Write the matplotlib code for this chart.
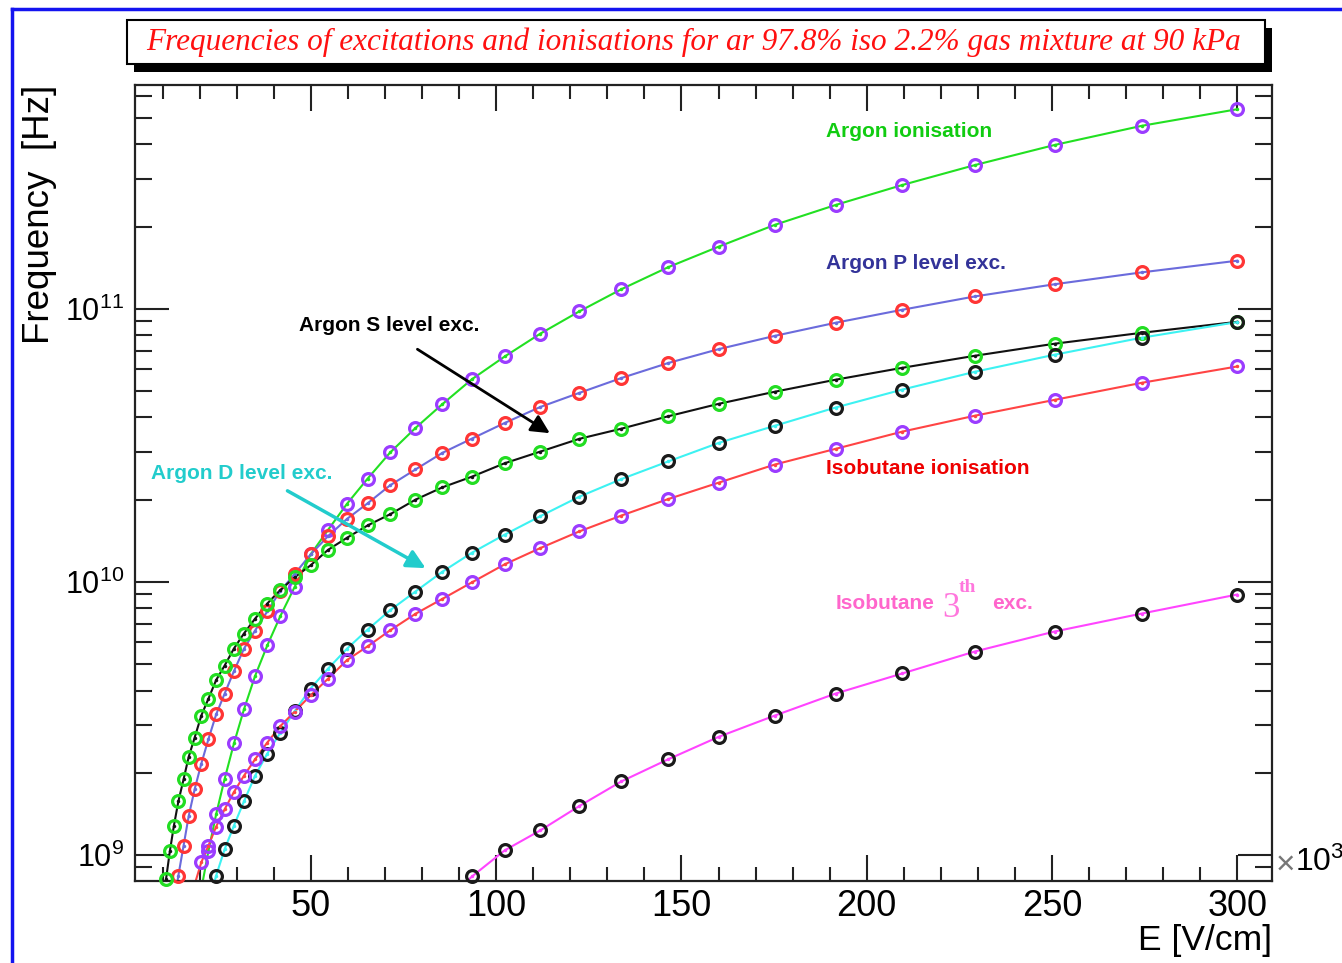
import numpy as np
import matplotlib
matplotlib.use("Agg")
import matplotlib.pyplot as plt
from matplotlib.patches import Rectangle
from matplotlib.lines import Line2D
from matplotlib.ticker import FixedLocator, MultipleLocator, LogLocator, NullFormatter

plt.rcParams['font.family'] = ['Liberation Sans', 'DejaVu Sans']
plt.rcParams['mathtext.default'] = 'regular'

# reduced field E (x10^3 V/cm), shared by every curve
field = [300.0, 274.3, 250.7, 229.2, 209.6, 191.6, 175.2, 160.1, 146.4, 133.8,
         122.4, 111.9, 102.3, 93.5, 85.5, 78.2, 71.4, 65.3, 59.7, 54.6,
         49.9, 45.6, 41.7, 38.2, 34.9, 31.9, 29.2, 26.7, 24.4, 22.3,
         20.4, 18.6, 17.0, 15.6, 14.2, 13.0, 11.9, 10.9, 9.9]

# frequencies [Hz], listed from high field down
ar_ionisation = [5.38e11, 4.68e11, 3.98e11, 3.36e11, 2.84e11, 2.40e11, 2.03e11, 1.69e11, 1.42e11, 1.18e11,
                 9.78e10, 8.11e10, 6.69e10, 5.53e10, 4.48e10, 3.66e10, 2.98e10, 2.39e10, 1.93e10, 1.55e10,
                 1.26e10, 9.59e9, 7.48e9, 5.85e9, 4.52e9, 3.41e9, 2.56e9, 1.90e9, 1.41e9, 1.03e9,
                 7.5e8]
ar_p_level = [1.50e11, 1.36e11, 1.23e11, 1.11e11, 9.92e10, 8.89e10, 7.96e10, 7.12e10, 6.33e10, 5.58e10,
              4.92e10, 4.37e10, 3.82e10, 3.35e10, 2.97e10, 2.58e10, 2.26e10, 1.94e10, 1.70e10, 1.47e10,
              1.26e10, 1.07e10, 9.25e9, 7.80e9, 6.63e9, 5.69e9, 4.71e9, 3.90e9, 3.27e9, 2.65e9,
              2.16e9, 1.74e9, 1.39e9, 1.08e9, 8.4e8, 6.6e8]
ar_s_level = [8.96e10, 8.17e10, 7.45e10, 6.73e10, 6.08e10, 5.50e10, 4.97e10, 4.49e10, 4.04e10, 3.64e10,
              3.34e10, 3.00e10, 2.72e10, 2.43e10, 2.22e10, 2.00e10, 1.77e10, 1.61e10, 1.45e10, 1.31e10,
              1.15e10, 1.04e10, 9.33e9, 8.33e9, 7.33e9, 6.47e9, 5.70e9, 4.94e9, 4.37e9, 3.73e9,
              3.24e9, 2.69e9, 2.29e9, 1.89e9, 1.57e9, 1.28e9, 1.03e9, 8.2e8, 6.6e8]
ar_d_level = [8.94e10, 7.84e10, 6.79e10, 5.88e10, 5.06e10, 4.35e10, 3.73e10, 3.23e10, 2.76e10, 2.38e10,
              2.05e10, 1.74e10, 1.49e10, 1.28e10, 1.09e10, 9.22e9, 7.88e9, 6.69e9, 5.69e9, 4.81e9,
              4.07e9, 3.36e9, 2.80e9, 2.35e9, 1.95e9, 1.57e9, 1.28e9, 1.05e9, 8.4e8, 6.6e8]
iso_ionisation = [6.15e10, 5.36e10, 4.64e10, 4.06e10, 3.55e10, 3.07e10, 2.69e10, 2.31e10, 2.01e10, 1.75e10,
                  1.53e10, 1.33e10, 1.16e10, 9.97e9, 8.67e9, 7.64e9, 6.65e9, 5.81e9, 5.17e9, 4.42e9,
                  3.84e9, 3.35e9, 2.96e9, 2.58e9, 2.24e9, 1.95e9, 1.70e9, 1.47e9, 1.27e9, 1.08e9,
                  9.4e8, 7.8e8]
iso_3th = [8.99e9, 7.66e9, 6.58e9, 5.56e9, 4.62e9, 3.90e9, 3.24e9, 2.71e9, 2.24e9, 1.86e9,
           1.51e9, 1.23e9, 1.04e9, 8.35e8, 6.6e8]

curves = [ar_ionisation, ar_p_level, ar_s_level, ar_d_level, iso_ionisation, iso_3th]
line_colors = ['#22e022', '#6b6bdc', '#111111', '#3df2f2', '#ff4444', '#ff44ff']
marker_colors = ['#9b3cff', '#ff3535', '#22dd22', '#1a1a1a', '#9b3cff', '#1a1a1a']

x_ticks = [50, 100, 150, 200, 250, 300]
title = "Frequencies of excitations and ionisations for ar 97.8% iso 2.2% gas mixture at 90 kPa"

W, H = 1342, 963
fig = plt.figure(figsize=(W / 100, H / 100), dpi=100)

# blue canvas border on top and left
fig.add_artist(Line2D([12 / W, 1], [1 - 9 / H, 1 - 9 / H], color='#1414f0', lw=2.5))
fig.add_artist(Line2D([12 / W, 12 / W], [0, 1 - 9 / H], color='#1414f0', lw=2.5))

# title pave with its shadow
fig.add_artist(Rectangle((134 / W, 1 - 72 / H), (1272 - 134) / W, 44 / H,
                         transform=fig.transFigure, facecolor='black', edgecolor='none'))
fig.add_artist(Rectangle((127 / W, 1 - 64 / H), (1265 - 127) / W, 44 / H,
                         transform=fig.transFigure, facecolor='white', edgecolor='black', lw=1.5))
fig.text(694 / W, 1 - 42 / H, title, color='#ff1010', family='Liberation Serif',
         style='italic', fontsize=22.5, ha='center', va='center')

ymin, ymax = 8.05e8, 6.6e11
ax = fig.add_axes([135 / W, 1 - 880.7 / H, (1272 - 135) / W, (880.7 - 85) / H])
ax.set_yscale('log')
ax.set_xlim(2.5, 309.4)
ax.set_ylim(ymin, ymax)

E = np.array(field)
for vals, lc, mc in zip(curves, line_colors, marker_colors):
    y = np.array(vals)
    x = E[:len(y)]
    ax.plot(x, y, color=lc, lw=1.5, zorder=2)
    keep = y >= ymin
    ax.plot(x[keep], y[keep], ls='none', marker='o', ms=8.5, mfc='none', mec=mc,
            mew=2.3, clip_on=False, zorder=3)
    ax.plot(x[keep], y[keep], ls='none', marker='o', ms=2.5, mfc=lc, mec='none',
            clip_on=False, zorder=3)

ax.xaxis.set_major_locator(FixedLocator(x_ticks))
ax.xaxis.set_minor_locator(MultipleLocator(10))
ax.yaxis.set_major_locator(LogLocator(base=10, numticks=10))
ax.yaxis.set_minor_locator(LogLocator(base=10, subs=np.arange(2, 10), numticks=10))
ax.yaxis.set_minor_formatter(NullFormatter())
ax.tick_params(which='both', direction='in', top=True, right=True, width=1.5, color='#222222')
ax.tick_params(axis='x', which='major', length=19, labelsize=26, pad=6)
ax.tick_params(axis='x', which='minor', length=10)
ax.tick_params(axis='y', which='major', length=24.5, labelsize=22, pad=8)
ax.tick_params(axis='y', which='minor', length=12)
for s in ax.spines.values():
    s.set_linewidth(1.6)
    s.set_color('#222222')

# curve labels and arrows
bold = dict(fontsize=15, fontweight='bold', va='center', ha='left')
ax.text(189.0, 4.45e11, 'Argon ionisation', color='#11cc11', **bold)
ax.text(189.0, 1.46e11, 'Argon P level exc.', color='#333399', **bold)
ax.text(46.8, 8.67e10, 'Argon S level exc.', color='black', **bold)
ax.text(6.8, 2.49e10, 'Argon D level exc.', color='#22cccc', **bold)
ax.text(189.0, 2.60e10, 'Isobutane ionisation', color='#ee0000', **bold)
ax.text(191.7, 8.34e9, 'Isobutane', color='#ff66cc', **bold)
ax.text(220.5, 8.0e9, '3', color='#ff77dd', family='Liberation Serif', fontsize=25,
        va='center', ha='left')
ax.text(224.8, 9.5e9, 'th', color='#ff77dd', family='Liberation Serif', fontsize=14,
        fontweight='bold', va='center', ha='left')
ax.text(233.8, 8.34e9, 'exc.', color='#ff66cc', **bold)

ax.annotate('', xy=(115.1, 3.46e10), xytext=(78.1, 7.2e10),
            arrowprops=dict(arrowstyle='-|>', color='black', lw=2, mutation_scale=28))
ax.annotate('', xy=(81.6, 1.11e10), xytext=(43.0, 2.18e10),
            arrowprops=dict(arrowstyle='-|>', color='#22cccc', lw=2.5, mutation_scale=28))

# axis titles and the field multiplier
fig.text(40 / W, 1 - 85 / H, 'Frequency  [Hz]', rotation=90, fontsize=26.5,
         ha='center', va='top')
fig.text(1272 / W, 1 - 940 / H, 'E [V/cm]', fontsize=25.5, ha='right', va='center')
fig.text(1275 / W, 1 - 864 / H, r'$\times$', fontsize=24, color='#777777', ha='left', va='center')
fig.text(1295 / W, 1 - 862 / H, r'$\mathdefault{10^{3}}$', fontsize=23, ha='left', va='center')

fig.savefig('out.png', dpi=100)
